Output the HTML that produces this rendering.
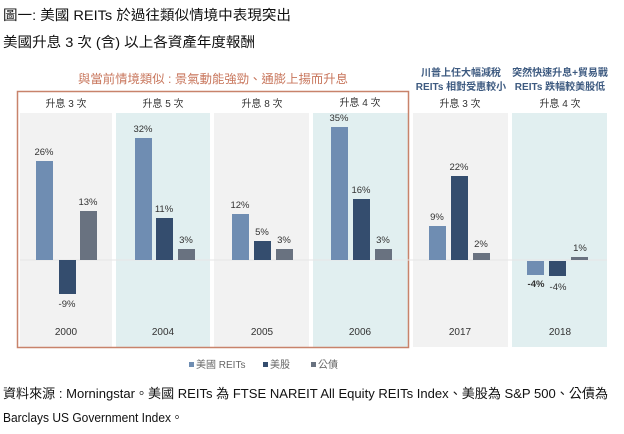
<!DOCTYPE html>
<html><head><meta charset="utf-8"><style>
html,body{margin:0;padding:0;background:#fff;}
svg{display:block;font-family:"Liberation Sans","Noto Sans CJK TC",sans-serif;}
</style></head><body>
<svg width="624" height="434" viewBox="0 0 624 434" xmlns="http://www.w3.org/2000/svg">
<text x="3" y="20" font-size="14" fill="#111" textLength="288" lengthAdjust="spacingAndGlyphs">圖一: 美國 REITs 於過往類似情境中表現突出</text>
<text x="3" y="47" font-size="14" fill="#111" textLength="252" lengthAdjust="spacingAndGlyphs">美國升息 3 次 (含) 以上各資產年度報酬</text>

<text x="213" y="83" font-size="12" fill="#c8765c" text-anchor="middle" textLength="270" lengthAdjust="spacingAndGlyphs">與當前情境類似 : 景氣動能強勁、通膨上揚而升息</text>
<text x="461" y="76" font-size="10" fill="#3d5a80" text-anchor="middle" font-weight="bold">川普上任大幅減稅</text>
<text x="461" y="90" font-size="10" fill="#3d5a80" text-anchor="middle" font-weight="bold">REITs 相對受惠較小</text>
<text x="560" y="76" font-size="10" fill="#3d5a80" text-anchor="middle" font-weight="bold">突然快速升息+貿易戰</text>
<text x="560" y="90" font-size="10" fill="#3d5a80" text-anchor="middle" font-weight="bold">REITs 跌幅較美股低</text>

<g>
<rect x="20" y="113" width="92" height="234" fill="#f2f2f2"/>
<rect x="116" y="113" width="94" height="234" fill="#e1eff0"/>
<rect x="214" y="113" width="95" height="234" fill="#f2f2f2"/>
<rect x="313" y="113" width="95" height="234" fill="#e1eff0"/>
<rect x="413" y="113" width="95" height="234" fill="#f2f2f2"/>
<rect x="512" y="113" width="95" height="234" fill="#e1eff0"/>
</g>
<rect x="17.5" y="91.5" width="391" height="256" fill="none" stroke="#c8836b" stroke-width="1.5"/>
<line x1="20" y1="260" x2="607" y2="260" stroke="#e6e6e6" stroke-width="1"/>

<g font-size="10" fill="#333" text-anchor="middle">
<text x="66" y="107">升息 3 次</text>
<text x="163" y="107">升息 5 次</text>
<text x="262" y="107">升息 8 次</text>
<text x="360" y="106">升息 4 次</text>
<text x="460" y="107">升息 3 次</text>
<text x="560" y="107">升息 4 次</text>
</g>

<g>
<rect x="36" y="161" width="17" height="99" fill="#6f8db2"/>
<rect x="59" y="260" width="17" height="34" fill="#344d6e"/>
<rect x="80" y="211" width="17" height="49" fill="#697280"/>
<rect x="135" y="138" width="17" height="122" fill="#6f8db2"/>
<rect x="156" y="218" width="17" height="42" fill="#344d6e"/>
<rect x="178" y="249" width="17" height="11" fill="#697280"/>
<rect x="232" y="214" width="17" height="46" fill="#6f8db2"/>
<rect x="254" y="241" width="17" height="19" fill="#344d6e"/>
<rect x="276" y="249" width="17" height="11" fill="#697280"/>
<rect x="331" y="127" width="17" height="133" fill="#6f8db2"/>
<rect x="353" y="199" width="17" height="61" fill="#344d6e"/>
<rect x="375" y="249" width="17" height="11" fill="#697280"/>
<rect x="429" y="226" width="17" height="34" fill="#6f8db2"/>
<rect x="451" y="176" width="17" height="84" fill="#344d6e"/>
<rect x="473" y="253" width="17" height="7" fill="#697280"/>
<rect x="527" y="261" width="17" height="14" fill="#6f8db2"/>
<rect x="549" y="261" width="17" height="15" fill="#344d6e"/>
<rect x="571" y="257" width="17" height="3" fill="#697280"/>
</g>

<g font-size="9.5" fill="#333" text-anchor="middle">
<text x="44" y="155">26%</text>
<text x="67" y="307">-9%</text>
<text x="88" y="205">13%</text>
<text x="143" y="132">32%</text>
<text x="164" y="212">11%</text>
<text x="186" y="243">3%</text>
<text x="240" y="208">12%</text>
<text x="262" y="235">5%</text>
<text x="284" y="243">3%</text>
<text x="339" y="121">35%</text>
<text x="361" y="193">16%</text>
<text x="383" y="243">3%</text>
<text x="437" y="220">9%</text>
<text x="459" y="170">22%</text>
<text x="481" y="247">2%</text>
<text x="536" y="287" font-weight="bold">-4%</text>
<text x="558" y="290">-4%</text>
<text x="580" y="251">1%</text>
</g>

<g font-size="10" fill="#333" text-anchor="middle">
<text x="66" y="335">2000</text>
<text x="163" y="335">2004</text>
<text x="262" y="335">2005</text>
<text x="360" y="335">2006</text>
<text x="460" y="335">2017</text>
<text x="560" y="335">2018</text>
</g>

<g font-size="10" fill="#666">
<rect x="189" y="362" width="5" height="5" fill="#6f8db2"/>
<text x="196" y="368">美國 REITs</text>
<rect x="263" y="362" width="5" height="5" fill="#344d6e"/>
<text x="270" y="368">美股</text>
<rect x="311" y="362" width="5" height="5" fill="#697280"/>
<text x="318" y="368">公債</text>
</g>

<text x="3" y="398" font-size="13" fill="#111" textLength="605" lengthAdjust="spacingAndGlyphs">資料來源 : Morningstar。美國 REITs 為 FTSE NAREIT All Equity REITs Index、美股為 S&amp;P 500、公債為</text>
<text x="3" y="422" font-size="13" fill="#111" textLength="180" lengthAdjust="spacingAndGlyphs">Barclays US Government Index。</text>
</svg>
</body></html>
